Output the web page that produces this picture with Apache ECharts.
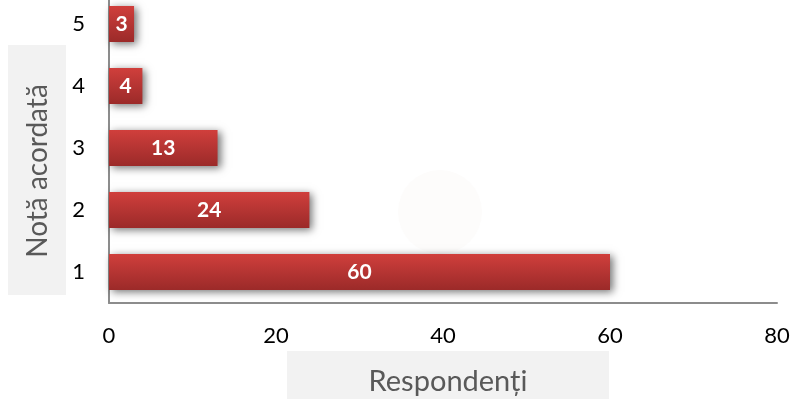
<!DOCTYPE html>
<html>
<head>
<meta charset="utf-8">
<title>Notă acordată – Respondenți</title>
<script src="https://cdn.jsdelivr.net/npm/echarts@6/dist/echarts.min.js"></script>
<style>
  html, body { margin: 0; padding: 0; background: #ffffff; }
  #chart { width: 792px; height: 399px; }
</style>
</head>
<body>
<div id="chart"></div>
<script>
// Grades given (category axis) and number of respondents per grade
const grades = ['1', '2', '3', '4', '5'];
const respondents = [60, 24, 13, 4, 3];
const xTicks = { min: 0, max: 80, interval: 20 };
const xTitle = 'Respondenți';
const yTitle = 'Notă acordată';

const FONT = 'Lato, "Open Sans", sans-serif';
const AXIS_GRAY = '#8c8c8c';
const TITLE_GRAY = '#595959';
const TITLE_BG = '#f2f2f2';

const chart = echarts.init(document.getElementById('chart'), null, { renderer: 'canvas' });

chart.setOption({
  animation: false,
  backgroundColor: '#ffffff',
  grid: {
    left: 109, right: 15, top: -7, bottom: 96,
    containLabel: false,
    outerBoundsMode: 'none'
  },
  xAxis: {
    type: 'value',
    min: xTicks.min,
    max: xTicks.max,
    interval: xTicks.interval,
    axisLine: { show: true, lineStyle: { color: AXIS_GRAY, width: 2 } },
    axisTick: { show: false },
    splitLine: { show: false },
    axisLabel: { color: '#000000', fontSize: 22, fontFamily: FONT, margin: 22 }
  },
  yAxis: {
    type: 'category',
    data: grades,
    axisLine: { show: true, lineStyle: { color: AXIS_GRAY, width: 2 } },
    axisTick: { show: false },
    splitLine: { show: false },
    axisLabel: { color: '#000000', fontSize: 22, fontFamily: FONT, margin: 24 }
  },
  graphic: [
    {
      // faint emblem in the background
      type: 'circle',
      z: 0,
      shape: { cx: 440, cy: 212, r: 42 },
      style: { fill: '#fdfcfb' },
      silent: true
    },
    // y-axis title panel
    {
      type: 'rect',
      z: 0,
      shape: { x: 8, y: 45, width: 58, height: 250 },
      style: { fill: TITLE_BG },
      silent: true
    },
    {
      type: 'text',
      z: 1,
      x: 38,
      y: 171,
      rotation: Math.PI / 2,
      style: {
        text: yTitle,
        fill: TITLE_GRAY,
        font: '28px ' + FONT,
        align: 'center',
        verticalAlign: 'middle'
      },
      silent: true
    },
    // x-axis title panel
    {
      type: 'rect',
      z: 0,
      shape: { x: 287, y: 351, width: 322, height: 60 },
      style: { fill: TITLE_BG },
      silent: true
    },
    {
      type: 'text',
      z: 1,
      x: 448,
      y: 382,
      style: {
        text: xTitle,
        fill: TITLE_GRAY,
        font: '29px ' + FONT,
        align: 'center',
        verticalAlign: 'middle'
      },
      silent: true
    }
  ],
  series: [
    {
      type: 'bar',
      data: respondents,
      barCategoryGap: '42%',
      itemStyle: {
        color: new echarts.graphic.LinearGradient(0, 0, 0, 1, [
          { offset: 0, color: '#d03f3c' },
          { offset: 1, color: '#9b2a29' }
        ]),
        shadowColor: 'rgba(0, 0, 0, 0.55)',
        shadowBlur: 8,
        shadowOffsetX: 3,
        shadowOffsetY: 2
      },
      label: {
        show: true,
        position: 'inside',
        color: '#ffffff',
        fontWeight: 'bold',
        fontSize: 21,
        fontFamily: FONT
      }
    }
  ]
});
</script>
</body>
</html>
